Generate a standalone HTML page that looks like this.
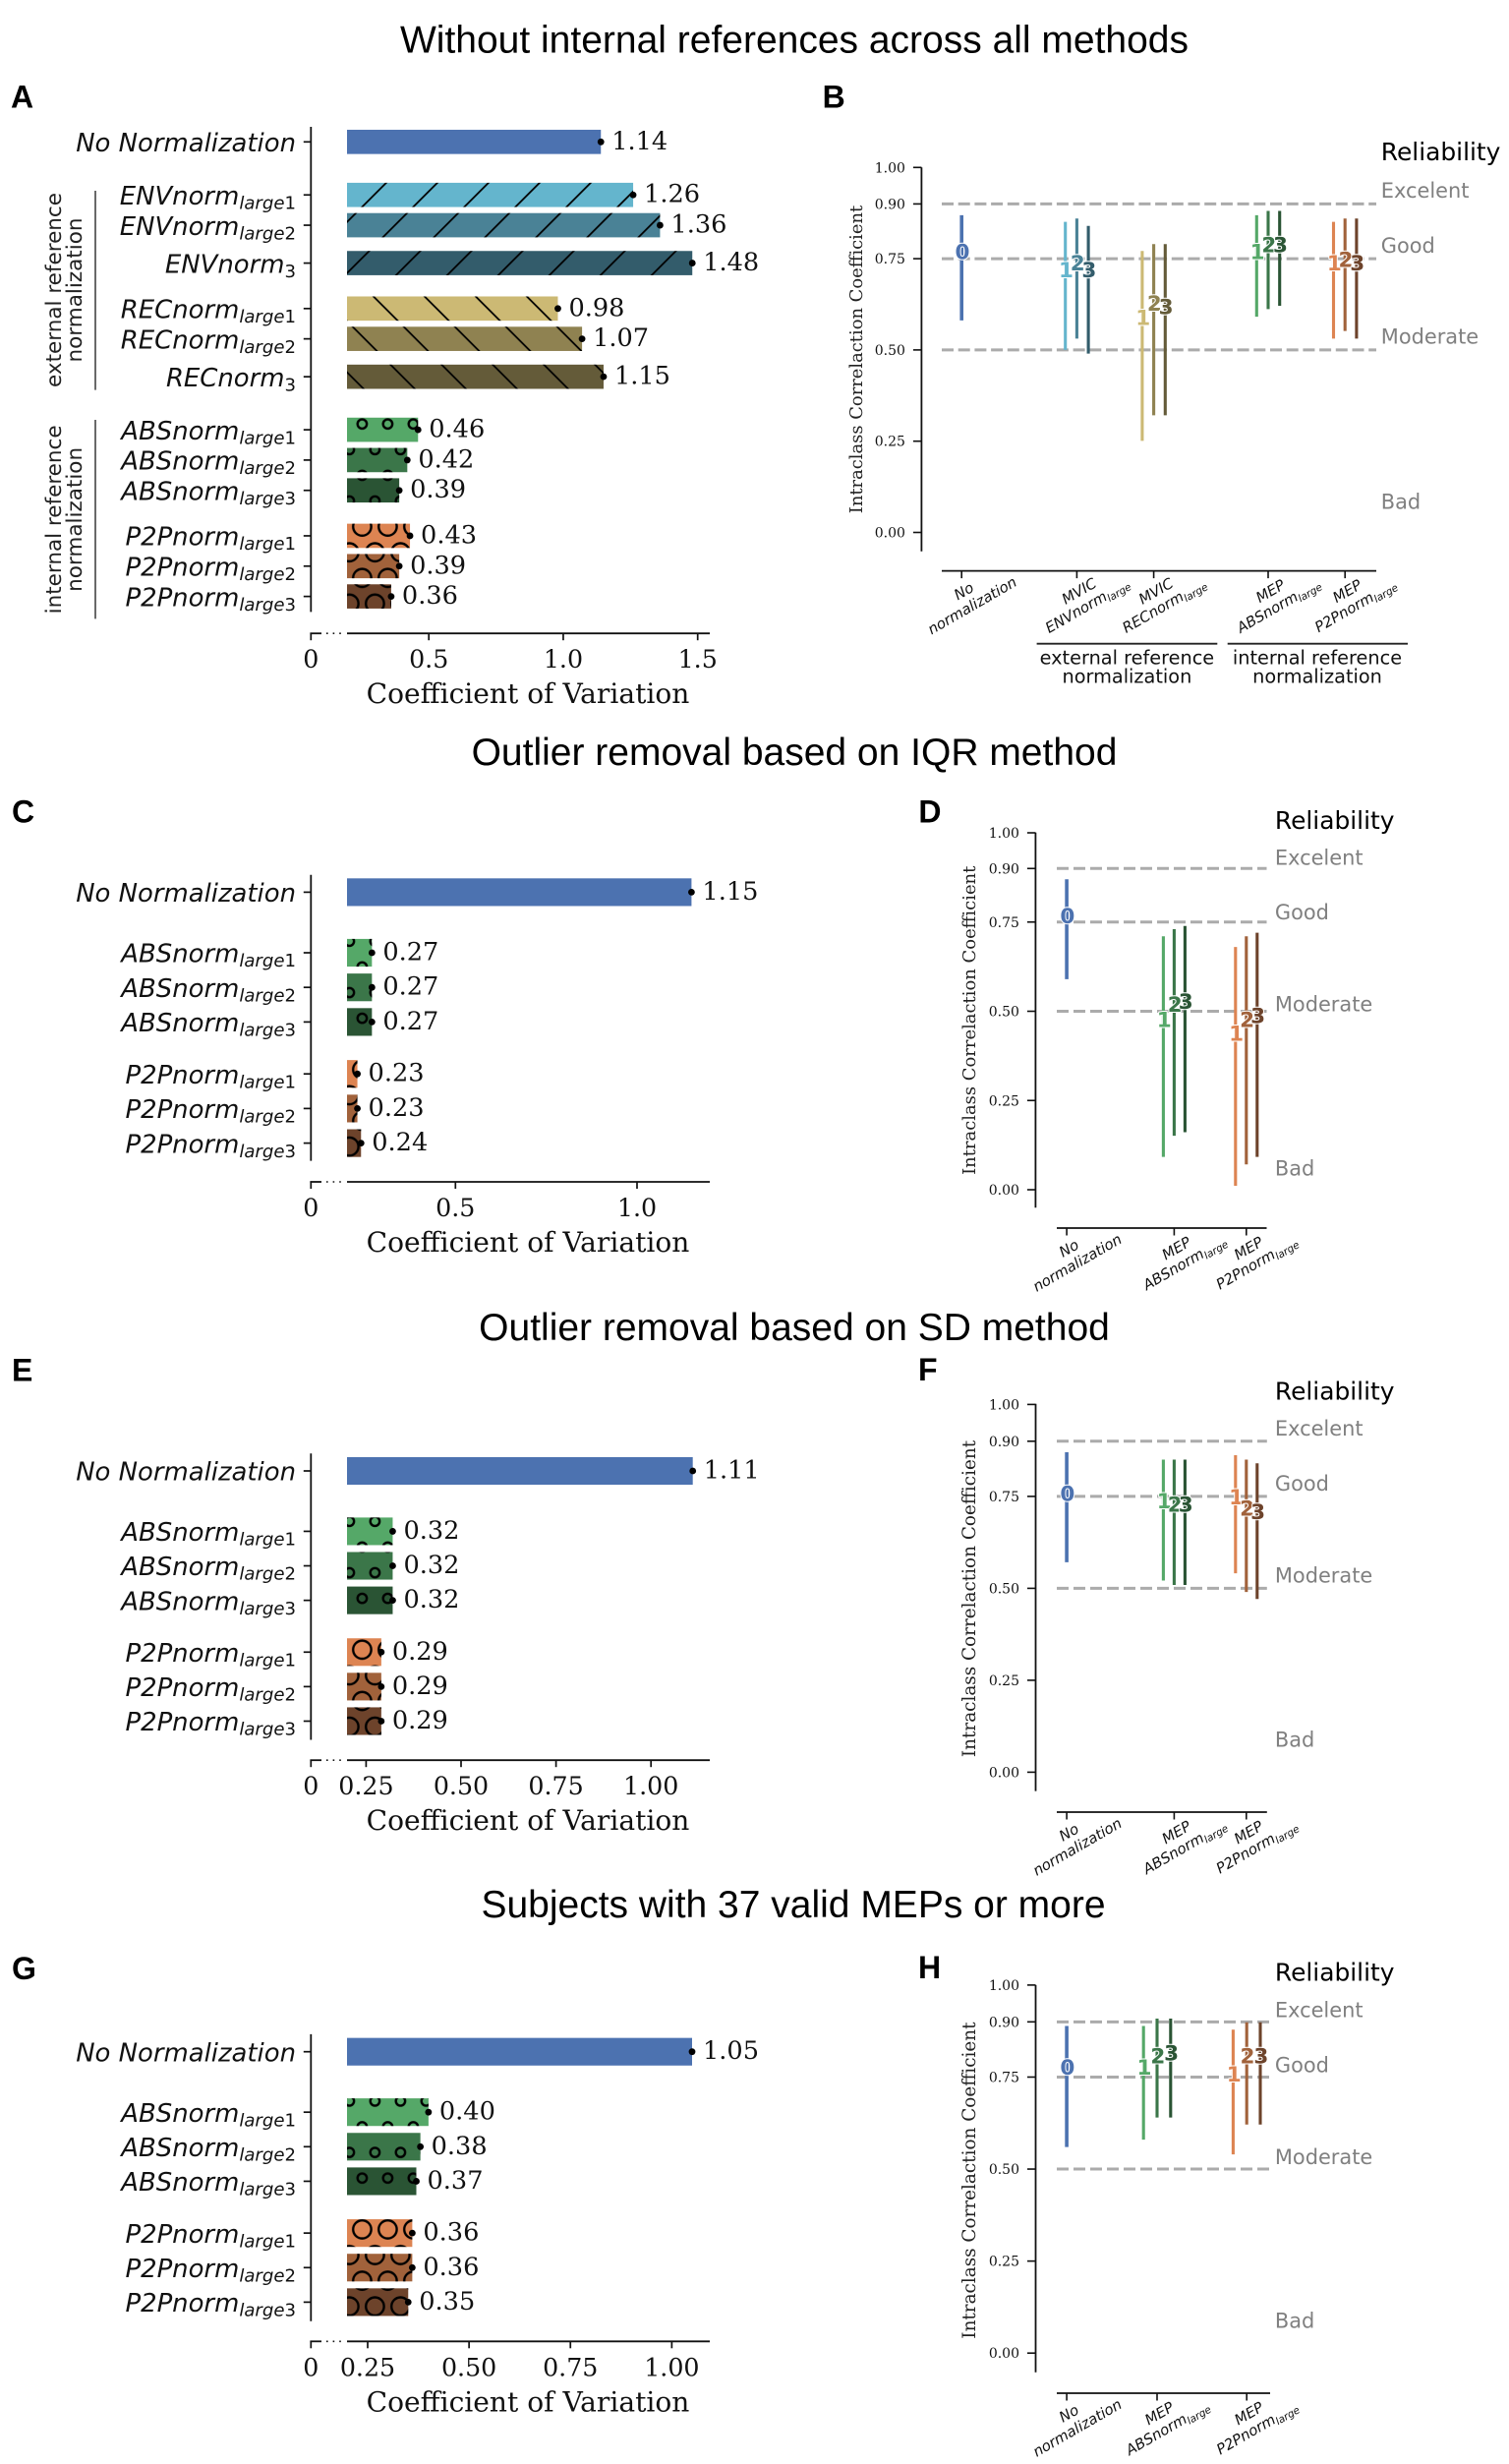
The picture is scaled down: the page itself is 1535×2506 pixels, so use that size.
<!DOCTYPE html>
<html lang="en">
<head>
<meta charset="utf-8">
<title>Reliability of normalization methods</title>
<style>
html,body{margin:0;padding:0;background:#fff;}
svg{display:block;}
.title{font-family:"Liberation Sans",Arial,sans-serif;font-size:39px;text-anchor:middle;fill:#000;}
.letter{font-family:"Liberation Sans",Arial,sans-serif;font-size:32px;font-weight:bold;fill:#000;}
.sans{font-family:"DejaVu Sans",sans-serif;}
.serif{font-family:"DejaVu Serif",serif;}
</style>
</head>
<body>
<svg id="figure" xmlns="http://www.w3.org/2000/svg" width="1535" height="2506" viewBox="0 0 1535 2506">
<defs id="defs"></defs>
<rect x="0" y="0" width="1535" height="2506" fill="#fff"/>

<text class="title" x="808" y="53.5">Without internal references across all methods</text>
<text class="title" x="808" y="778">Outlier removal based on IQR method</text>
<text class="title" x="808" y="1363">Outlier removal based on SD method</text>
<text class="title" x="807" y="1950">Subjects with 37 valid MEPs or more</text>

<text class="letter" x="11" y="109.4">A</text>
<text class="letter" x="836.6" y="109.7">B</text>
<text class="letter" x="12" y="836.5">C</text>
<text class="letter" x="934.4" y="836.4">D</text>
<text class="letter" x="12" y="1404.3">E</text>
<text class="letter" x="934" y="1403.8">F</text>
<text class="letter" x="12" y="2012.9">G</text>
<text class="letter" x="934" y="2012">H</text>

<!-- Panel A group annotations -->
<g class="sans" font-size="21.5" fill="#222" text-anchor="middle">
  <text transform="translate(62,295) rotate(-90)">external reference</text>
  <text transform="translate(83,295) rotate(-90)">normalization</text>
  <text transform="translate(62,528.4) rotate(-90)">internal reference</text>
  <text transform="translate(83,528.4) rotate(-90)">normalization</text>
</g>
<line x1="97" x2="97" y1="194" y2="396.6" stroke="#444" stroke-width="1.6"/>
<line x1="97" x2="97" y1="427" y2="629.4" stroke="#444" stroke-width="1.6"/>

<!-- Panel B group annotations -->
<line x1="1054.6" x2="1238.3" y1="654.7" y2="654.7" stroke="#222" stroke-width="1.8"/>
<line x1="1248.7" x2="1432" y1="654.7" y2="654.7" stroke="#222" stroke-width="1.8"/>
<g class="sans" font-size="19.3" fill="#111" text-anchor="middle">
  <text x="1146.4" y="675.3">external reference</text>
  <text x="1146.4" y="694.3">normalization</text>
  <text x="1340" y="675.3">internal reference</text>
  <text x="1340" y="694.3">normalization</text>
</g>
<g id="charts"></g>
</svg>

<script>
// ---------- chart data ----------
const barCategoriesA = ['No Normalization','ENVnorm|large1','ENVnorm|large2','ENVnorm|3','RECnorm|large1','RECnorm|large2','RECnorm|3','ABSnorm|large1','ABSnorm|large2','ABSnorm|large3','P2Pnorm|large1','P2Pnorm|large2','P2Pnorm|large3'];
const barCategoriesShort = ['No Normalization','ABSnorm|large1','ABSnorm|large2','ABSnorm|large3','P2Pnorm|large1','P2Pnorm|large2','P2Pnorm|large3'];

const cvValuesA = [1.14,1.26,1.36,1.48,0.98,1.07,1.15,0.46,0.42,0.39,0.43,0.39,0.36];
const cvValuesC = [1.15,0.27,0.27,0.27,0.23,0.23,0.24];
const cvValuesE = [1.11,0.32,0.32,0.32,0.29,0.29,0.29];
const cvValuesG = [1.05,0.40,0.38,0.37,0.36,0.36,0.35];

const xTicksA = [0.5,1.0,1.5];
const xTicksC = [0.5,1.0];
const xTicksE = [0.25,0.5,0.75,1.0];
const xTicksG = [0.25,0.5,0.75,1.0];
const xTickLabelsA = ['0.5','1.0','1.5'];
const xTickLabelsC = ['0.5','1.0'];
const xTickLabelsE = ['0.25','0.50','0.75','1.00'];
const xTickLabelsG = ['0.25','0.50','0.75','1.00'];

const iccTicks = [0,0.25,0.5,0.75,0.9,1];
const iccTickLabels = ['0.00','0.25','0.50','0.75','0.90','1.00'];
const reliabilityThresholds = [0.9,0.75,0.5];
const reliabilityLabels = ['Excelent','Good','Moderate','Bad'];

const iccSeriesB = ['No Normalization','ENVnorm|large1','ENVnorm|large2','ENVnorm|3','RECnorm|large1','RECnorm|large2','RECnorm|3','ABSnorm|large1','ABSnorm|large2','ABSnorm|large3','P2Pnorm|large1','P2Pnorm|large2','P2Pnorm|large3'];
const iccSeriesShort = ['No Normalization','ABSnorm|large1','ABSnorm|large2','ABSnorm|large3','P2Pnorm|large1','P2Pnorm|large2','P2Pnorm|large3'];
const iccDigitsB = ['0','1','2','3','1','2','3','1','2','3','1','2','3'];
const iccDigitsShort = ['0','1','2','3','1','2','3'];
const iccGroupsB = [0,1,1,1,2,2,2,3,3,3,4,4,4];
const iccGroupsShort = [0,1,1,1,2,2,2];
const iccSlotsB = [0,-1,0,1,-1,0,1,-1,0,1,-1,0,1];
const iccSlotsShort = [0,-1,0,1,-1,0,1];

const iccMidB  = [0.77,0.72,0.739,0.72,0.59,0.629,0.62,0.77,0.79,0.79,0.74,0.749,0.74];
const iccLowB  = [0.581,0.50,0.531,0.49,0.251,0.321,0.321,0.591,0.612,0.621,0.531,0.552,0.531];
const iccHighB = [0.869,0.851,0.86,0.84,0.771,0.79,0.79,0.869,0.881,0.881,0.851,0.86,0.86];

const iccMidD  = [0.769,0.478,0.52,0.529,0.439,0.478,0.489];
const iccLowD  = [0.59,0.092,0.151,0.161,0.011,0.071,0.092];
const iccHighD = [0.87,0.71,0.73,0.739,0.68,0.71,0.72];

const iccMidF  = [0.759,0.739,0.73,0.73,0.75,0.719,0.709];
const iccLowF  = [0.571,0.521,0.509,0.509,0.541,0.49,0.471];
const iccHighF = [0.87,0.85,0.85,0.85,0.862,0.85,0.84];

const iccMidH  = [0.778,0.778,0.809,0.817,0.759,0.809,0.809];
const iccLowH  = [0.56,0.58,0.64,0.64,0.54,0.621,0.621];
const iccHighH = [0.889,0.889,0.909,0.909,0.879,0.899,0.899];

const iccCategoryLabelsB = [['No','normalization'],['MVIC','ENVnorm|large'],['MVIC','RECnorm|large'],['MEP','ABSnorm|large'],['MEP','P2Pnorm|large']];
const iccCategoryLabelsShort = [['No','normalization'],['MEP','ABSnorm|large'],['MEP','P2Pnorm|large']];

// ---------- styling and layout (not data) ----------
const palette = {
  'No Normalization':'#4c72b0',
  'ENVnorm|large1':'#64b5cd','ENVnorm|large2':'#4a8296','ENVnorm|3':'#335c6b',
  'RECnorm|large1':'#ccb974','RECnorm|large2':'#8f8251','RECnorm|3':'#645b39',
  'ABSnorm|large1':'#55a868','ABSnorm|large2':'#3b7649','ABSnorm|large3':'#2a5434',
  'P2Pnorm|large1':'#dd8452','P2Pnorm|large2':'#a1623b','P2Pnorm|large3':'#6d432b'
};
const slotsA = [0,1.75,2.75,4,5.5,6.5,7.75,9.5,10.5,11.5,13,14,15];
const slotsShort = [0,1.75,2.75,3.75,5.25,6.25,7.25];

const barPanels = [
 {id:'a',cats:barCategoriesA,vals:cvValuesA,ticks:xTicksA,labels:xTickLabelsA,slots:slotsA,y0:144.3,pitch:30.82,top:129,bottom:622.4,axisY:644.2,a:[0.5,436.2],b:[1.5,709.7],hatchY:431.2},
 {id:'c',cats:barCategoriesShort,vals:cvValuesC,ticks:xTicksC,labels:xTickLabelsC,slots:slotsShort,y0:907.4,pitch:35.2,top:889.8,bottom:1180.6,axisY:1202,a:[0.5,463.3],b:[1.0,648],hatchY:983.4},
 {id:'e',cats:barCategoriesShort,vals:cvValuesE,ticks:xTicksE,labels:xTickLabelsE,slots:slotsShort,y0:1496,pitch:35.1,top:1478.3,bottom:1769.5,axisY:1790.2,a:[0.25,372.4],b:[1.0,662.2],hatchY:1573.4},
 {id:'g',cats:barCategoriesShort,vals:cvValuesG,ticks:xTicksG,labels:xTickLabelsG,slots:slotsShort,y0:2086.7,pitch:35.13,top:2068.9,bottom:2360.8,axisY:2381.3,a:[0.25,374],b:[1.05,704],hatchY:2163}
];
const iccPanels = [
 {id:'b',series:iccSeriesB,digits:iccDigitsB,groups:iccGroupsB,slots:iccSlotsB,mid:iccMidB,low:iccLowB,high:iccHighB,catLabels:iccCategoryLabelsB,
  tickX:[978.2,1095.4,1173.6,1290,1368.2],off:11.7,y0:541.5,k:371.2,spineX:937.4,top:170.3,bottom:560.8,axisY:580.6,x0:958,x1:1400,dash:'12 4.7',
  relX:1404.8,relY:[163,201,257,349.6,517.5],titleX:877,titleY:365.5,titleSize:17.9},
 {id:'d',series:iccSeriesShort,digits:iccDigitsShort,groups:iccGroupsShort,slots:iccSlotsShort,mid:iccMidD,low:iccLowD,high:iccHighD,catLabels:iccCategoryLabelsShort,
  tickX:[1085.1,1194.4,1267.8],off:11,y0:1210,k:363,spineX:1053.4,top:846.7,bottom:1228.3,axisY:1249,x0:1075,x1:1288.5,dash:'12 5',
  relX:1296.9,relY:[843,879.3,935,1028.3,1195.7],titleX:992,titleY:1037.8,titleSize:17.95},
 {id:'f',series:iccSeriesShort,digits:iccDigitsShort,groups:iccGroupsShort,slots:iccSlotsShort,mid:iccMidF,low:iccLowF,high:iccHighF,catLabels:iccCategoryLabelsShort,
  tickX:[1085.1,1194.4,1267.8],off:11,y0:1802.4,k:374,spineX:1053.5,top:1427.8,bottom:1821.6,axisY:1843,x0:1075,x1:1288.8,dash:'12 5',
  relX:1296.9,relY:[1423.4,1460,1516,1609.4,1776.4],titleX:992,titleY:1626,titleSize:18.4},
 {id:'h',series:iccSeriesShort,digits:iccDigitsShort,groups:iccGroupsShort,slots:iccSlotsShort,mid:iccMidH,low:iccLowH,high:iccHighH,catLabels:iccCategoryLabelsShort,
  tickX:[1085.1,1177,1268.2],off:13.8,y0:2393.2,k:374.3,spineX:1053.5,top:2018.9,bottom:2412.7,axisY:2434,x0:1075,x1:1292,dash:'12 5',
  relX:1296.9,relY:[2014.4,2051.4,2107.4,2200.8,2367.3],titleX:992,titleY:2217.6,titleSize:18.4}
];

// ---------- helpers ----------
const NS = 'http://www.w3.org/2000/svg';
const root = document.getElementById('charts');
const defs = document.getElementById('defs');
function mk(tag, props, parent, text){
  const n = document.createElementNS(NS, tag);
  for (const k in props) n.setAttribute(k, props[k]);
  if (text !== undefined) n.textContent = text;
  (parent || root).appendChild(n);
  return n;
}
function linearScale(a, b){
  const k = (b[1]-a[1])/(b[0]-a[0]);
  return function(v){ return a[1] + (v-a[0])*k; };
}
// label of the form "BASE|sub": oblique base with a lowered, smaller subscript
function writeMathLabel(textEl, label, subSize, subDrop){
  const parts = label.split('|');
  mk('tspan', {'font-style':'oblique'}, textEl, parts[0]);
  if (parts.length < 2) return;
  const letters = parts[1].replace(/[0-9]/g,'');
  const digits = parts[1].replace(/[^0-9]/g,'');
  let first = true;
  if (letters){
    mk('tspan', {'font-style':'oblique','font-size':subSize,dy:subDrop}, textEl, letters);
    first = false;
  }
  if (digits){
    const props = {'font-style':'normal','font-size':subSize};
    if (first) props.dy = subDrop;
    mk('tspan', props, textEl, digits);
  }
}
function hatchKind(cat){
  if (cat.indexOf('ENV') === 0) return 'env';
  if (cat.indexOf('REC') === 0) return 'rec';
  if (cat.indexOf('ABS') === 0) return 'abs';
  if (cat.indexOf('P2P') === 0) return 'p2p';
  return null;
}

// ---------- hatch patterns ----------
(function(){
  const env = mk('pattern',{id:'hatch-env',patternUnits:'userSpaceOnUse',width:52,height:52,patternTransform:'translate(6.8,0)'},defs);
  mk('path',{d:'M-4,56 L56,-4 M-4,4 L4,-4 M48,56 L56,48',stroke:'#000','stroke-width':1.8,fill:'none'},env);
  const rec = mk('pattern',{id:'hatch-rec',patternUnits:'userSpaceOnUse',width:52,height:52,patternTransform:'translate(26.4,0)'},defs);
  mk('path',{d:'M-4,-4 L56,56 M-4,48 L4,56 M48,-4 L56,4',stroke:'#000','stroke-width':1.8,fill:'none'},rec);
  barPanels.forEach(function(p){
    [['abs',4.7],['p2p',9.2]].forEach(function(h){
      const pat = mk('pattern',{id:'hatch-'+h[0]+'-'+p.id,patternUnits:'userSpaceOnUse',width:26,height:52.2,patternTransform:'translate(368.4,'+p.hatchY+')'},defs);
      [[0,0],[26,0],[0,52.2],[26,52.2],[13,26.1]].forEach(function(c){
        mk('circle',{cx:c[0],cy:c[1],r:h[1],fill:'none',stroke:'#000','stroke-width':2.4},pat);
      });
    });
  });
})();

// ---------- coefficient-of-variation bar panels ----------
barPanels.forEach(function(p){
  const g = mk('g',{});
  
  
  const x = linearScale(p.a, p.b);
  const y = function(slot){ return p.y0 + slot*p.pitch; };
  const barH = p.pitch*0.8;
  const left = 353;
  const spineX = 316.3;

  p.cats.forEach(function(cat, i){
    const cy = y(p.slots[i]);
    const end = x(p.vals[i]);
    const bar = mk('rect',{x:left,y:cy-barH/2,width:Math.max(0,end-left),height:barH,fill:palette[cat]},g);
    
    
    const kind = hatchKind(cat);
    if (kind){
      const pid = (kind === 'env' || kind === 'rec') ? 'hatch-'+kind : 'hatch-'+kind+'-'+p.id;
      const hatch = mk('rect',{x:left,y:cy-barH/2,width:Math.max(0,end-left),height:barH,fill:'url(#'+pid+')'},g);
      
      
    }
    const dot = mk('circle',{cx:end,cy:cy,r:3.4,fill:'#000'},g);
    
    
    const val = mk('text',{x:end+11,y:cy+7.5,'class':'serif','font-size':25.6,fill:'#111'},g,p.vals[i].toFixed(2));
    
    
    const tick = mk('line',{x1:spineX-7.5,x2:spineX,y1:cy,y2:cy,stroke:'#111','stroke-width':1.7},g);
    
    
    const label = mk('text',{x:301,y:cy+9.7,'class':'sans','font-size':25.9,'text-anchor':'end',fill:'#111'},g);
    
    
    writeMathLabel(label, cat, 18.1, 4.5);
  });

  const spine = mk('line',{x1:spineX,x2:spineX,y1:p.top,y2:p.bottom,stroke:'#111','stroke-width':1.8},g);
  
  
  const a1 = mk('line',{x1:spineX-0.9,x2:327,y1:p.axisY,y2:p.axisY,stroke:'#111','stroke-width':1.8},g);
  
  
  const a2 = mk('line',{x1:332,x2:351,y1:p.axisY,y2:p.axisY,stroke:'#111','stroke-width':1.6,'stroke-dasharray':'1.6 5'},g);
  
  
  const a3 = mk('line',{x1:353,x2:722,y1:p.axisY,y2:p.axisY,stroke:'#111','stroke-width':1.8},g);
  
  

  const zt = mk('line',{x1:spineX,x2:spineX,y1:p.axisY,y2:p.axisY+7,stroke:'#111','stroke-width':1.7},g);
  
  
  const zl = mk('text',{x:spineX,y:p.axisY+35,'class':'serif','font-size':25.3,'text-anchor':'middle',fill:'#111'},g,'0');
  
  
  p.ticks.forEach(function(v, i){
    const t = mk('line',{x1:x(v),x2:x(v),y1:p.axisY,y2:p.axisY+7,stroke:'#111','stroke-width':1.7},g);
    
    
    const tl = mk('text',{x:x(v),y:p.axisY+35,'class':'serif','font-size':25.3,'text-anchor':'middle',fill:'#111'},g,p.labels[i]);
    
    
  });
  const title = mk('text',{x:537,y:p.axisY+71,'class':'serif','font-size':28.1,'text-anchor':'middle',fill:'#111'},g,'Coefficient of Variation');
  
  
});

// ---------- intraclass correlation panels ----------
iccPanels.forEach(function(p){
  const g = mk('g',{});
  
  
  const y = function(v){ return p.y0 - v*p.k; };

  reliabilityThresholds.forEach(function(v){
    const d = mk('line',{x1:p.x0,x2:p.x1,y1:y(v),y2:y(v),stroke:'#ababab','stroke-width':3,'stroke-dasharray':p.dash},g);
    
    
  });

  const spine = mk('line',{x1:p.spineX,x2:p.spineX,y1:p.top,y2:p.bottom,stroke:'#111','stroke-width':1.8},g);
  
  
  iccTicks.forEach(function(v, i){
    const t = mk('line',{x1:p.spineX-8.5,x2:p.spineX,y1:y(v),y2:y(v),stroke:'#111','stroke-width':1.6},g);
    
    
    const l = mk('text',{x:p.spineX-16.5,y:y(v)+5,'class':'serif','font-size':14,'text-anchor':'end',fill:'#111'},g,iccTickLabels[i]);
    
    
  });
  const yt = mk('text',{'class':'serif','font-size':p.titleSize,'text-anchor':'middle',fill:'#222',transform:'translate('+p.titleX+','+p.titleY+') rotate(-90)'},g,'Intraclass Correlaction Coefficient');
  
  

  const xa = mk('line',{x1:p.x0,x2:p.x1,y1:p.axisY,y2:p.axisY,stroke:'#111','stroke-width':1.8},g);
  
  
  p.tickX.forEach(function(tx, i){
    const t = mk('line',{x1:tx,x2:tx,y1:p.axisY,y2:p.axisY+7.5,stroke:'#111','stroke-width':1.6},g);
    
    
    const grp = mk('g',{'class':'sans','font-size':14.8,'text-anchor':'middle',fill:'#111',transform:'translate('+(tx+6.5)+','+(p.axisY+28)+') rotate(-30)'},g);
    
    
    p.catLabels[i].forEach(function(line, j){
      const tl = mk('text',{x:0,y:j === 0 ? -3.5 : 13.5},grp);
      
      
      writeMathLabel(tl, line, 10.4, 3);
    });
  });

  p.series.forEach(function(name, i){
    const sx = p.tickX[p.groups[i]] + p.slots[i]*p.off;
    const width = i === 0 ? 3.6 : 3.1;
    const bar = mk('line',{x1:sx,x2:sx,y1:y(p.low[i]),y2:y(p.high[i]),stroke:palette[name],'stroke-width':width},g);
    
    
  });
  p.series.forEach(function(name, i){
    const sx = p.tickX[p.groups[i]] + p.slots[i]*p.off;
    const digit = mk('text',{x:sx+0.8,y:y(p.mid[i])+8,'class':'sans','font-size':21.5,'font-weight':'bold','text-anchor':'middle',fill:palette[name],stroke:'#fff','stroke-width':2,'paint-order':'stroke','stroke-linejoin':'round'},g,p.digits[i]);
    
    
  });

  const rel = mk('text',{x:p.relX,y:p.relY[0],'class':'sans','font-size':24.9,fill:'#000'},g,'Reliability');
  
  
  reliabilityLabels.forEach(function(txt, i){
    const t = mk('text',{x:p.relX,y:p.relY[i+1],'class':'sans','font-size':20.9,fill:'#808080'},g,txt);
    
    
  });
});
</script>
</body>
</html>
